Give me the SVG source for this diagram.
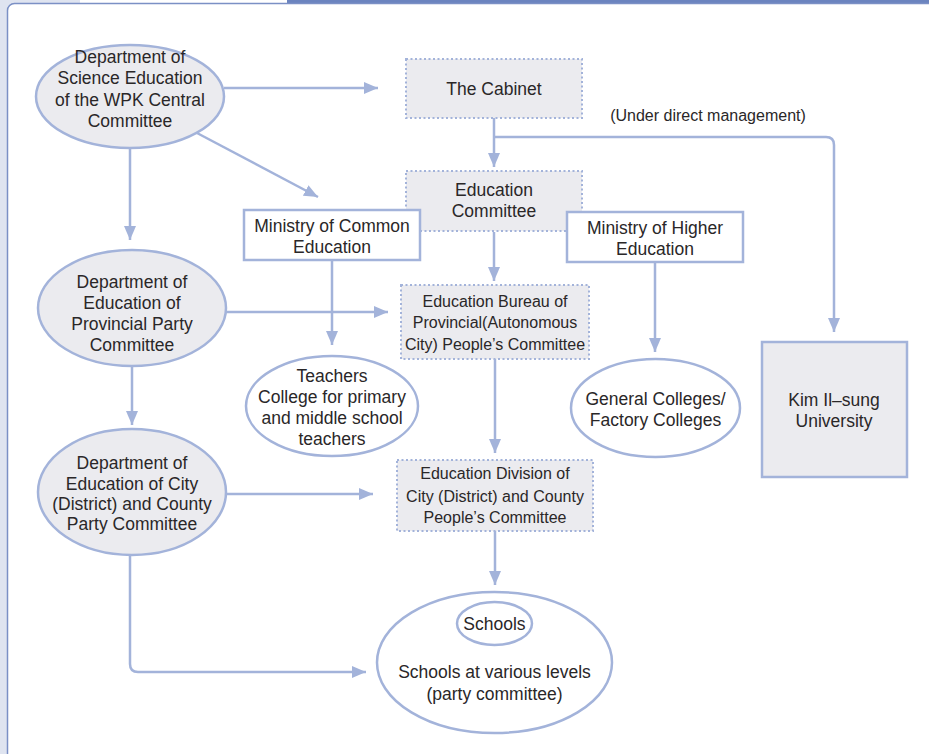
<svg xmlns="http://www.w3.org/2000/svg" width="929" height="754" viewBox="0 0 929 754">
<defs>
<style>
.t{font-family:"Liberation Sans",Arial,sans-serif;font-size:17.5px;fill:#2a2728;text-anchor:middle}
.s{font-size:16px}
.ell{fill:#ebebef;stroke:#a3b3da;stroke-width:2.5}
.ellw{fill:#ffffff;stroke:#a3b3da;stroke-width:2.5}
.dot{fill:#ebebef;stroke:#a3b3da;stroke-width:2;stroke-dasharray:2 2.5}
.box{fill:#ffffff;stroke:#a3b3da;stroke-width:2.5}
.boxg{fill:#ebebef;stroke:#a3b3da;stroke-width:2.5}
.c{fill:none;stroke:#a3b3da;stroke-width:2.5;marker-end:url(#ah)}
</style>
<marker id="ah" viewBox="0 0 14 12" refX="14" refY="6" markerWidth="14" markerHeight="12" markerUnits="userSpaceOnUse" orient="auto">
<path d="M0,0 L14,6 L0,12 z" fill="#a3b3da"/>
</marker>
</defs>
<rect x="0" y="0" width="929" height="754" fill="#dfe4f0"/>
<rect x="80" y="0" width="207" height="5" fill="#ffffff"/>
<rect x="287" y="0" width="642" height="4" fill="#6b84bf"/>
<rect x="7.5" y="3.5" width="940" height="770" rx="7" fill="#ffffff" stroke="#7b90c5" stroke-width="1.5"/>

<g id="connectors">
<path class="c" d="M224,88 H378"/>
<path class="c" d="M197,133 L318,197"/>
<path class="c" d="M130,148 V240"/>
<path class="c" d="M494,118 V167"/>
<path class="c" d="M494,137 H826 Q834,137 834,145 V332"/>
<path class="c" d="M655,262 V352"/>
<path class="c" d="M494,232 V281"/>
<path class="c" d="M226,312 H388"/>
<path class="c" d="M332,260 V345"/>
<path class="c" d="M132,366 V425"/>
<path class="c" d="M495,359 V453"/>
<path class="c" d="M226,494 H373"/>
<path class="c" d="M495,531 V585"/>
<path class="c" d="M130,555 V664 Q130,672 138,672 H366"/>
</g>

<g id="wpk">
<ellipse class="ell" cx="130" cy="96.5" rx="94" ry="51.5"/>
<text class="t" x="130" y="63">Department of</text>
<text class="t" x="130" y="84">Science Education</text>
<text class="t" x="130" y="105.5">of the WPK Central</text>
<text class="t" x="130" y="126.5">Committee</text>
</g>

<g id="cabinet">
<rect class="dot" x="406" y="59" width="176" height="59"/>
<text class="t" x="494" y="95">The Cabinet</text>
</g>

<text class="t s" x="708" y="121">(Under direct management)</text>

<g id="educom">
<rect class="dot" x="406" y="171" width="176" height="60"/>
<text class="t" x="494" y="195.5">Education</text>
<text class="t" x="494" y="216.5">Committee</text>
</g>

<g id="mincommon">
<rect class="box" x="244" y="210" width="176" height="50"/>
<text class="t" x="332" y="232">Ministry of Common</text>
<text class="t" x="332" y="253">Education</text>
</g>

<g id="minhigher">
<rect class="box" x="567" y="212" width="176" height="50"/>
<text class="t" x="655" y="234">Ministry of Higher</text>
<text class="t" x="655" y="255">Education</text>
</g>

<g id="prov">
<ellipse class="ell" cx="132" cy="308" rx="94" ry="58"/>
<text class="t" x="132" y="288">Department of</text>
<text class="t" x="132" y="309">Education of</text>
<text class="t" x="132" y="330">Provincial Party</text>
<text class="t" x="132" y="351">Committee</text>
</g>

<g id="bureau">
<rect class="dot" x="401" y="285" width="188" height="74"/>
<text class="t s" x="495" y="306.5">Education Bureau of</text>
<text class="t s" x="495" y="328">Provincial(Autonomous</text>
<text class="t s" x="495" y="350">City) People’s Committee</text>
</g>

<g id="teachers">
<ellipse class="ellw" cx="332" cy="406" rx="86" ry="50"/>
<text class="t" x="332" y="382">Teachers</text>
<text class="t" x="332" y="403">College for primary</text>
<text class="t" x="332" y="424">and middle school</text>
<text class="t" x="332" y="445">teachers</text>
</g>

<g id="colleges">
<ellipse class="ellw" cx="655.5" cy="408" rx="84.5" ry="49"/>
<text class="t" x="655.5" y="405">General Colleges/</text>
<text class="t" x="655.5" y="426">Factory Colleges</text>
</g>

<g id="kimilsung">
<rect class="boxg" x="762" y="342" width="145" height="135"/>
<text class="t" x="834" y="406">Kim Il–sung</text>
<text class="t" x="834" y="427">University</text>
</g>

<g id="city">
<ellipse class="ell" cx="132" cy="492" rx="94" ry="63"/>
<text class="t" x="132" y="469">Department of</text>
<text class="t" x="132" y="490">Education of City</text>
<text class="t" x="132" y="510">(District) and County</text>
<text class="t" x="132" y="530">Party Committee</text>
</g>

<g id="division">
<rect class="dot" x="397" y="460" width="196" height="71"/>
<text class="t s" x="495" y="479">Education Division of</text>
<text class="t s" x="495" y="501.5">City (District) and County</text>
<text class="t s" x="495" y="523">People’s Committee</text>
</g>

<g id="schools">
<ellipse class="ellw" cx="494.5" cy="662.5" rx="117.5" ry="70.5"/>
<ellipse class="ellw" cx="494.5" cy="623.5" rx="37.5" ry="21.5"/>
<text class="t" x="494.5" y="630">Schools</text>
<text class="t" x="494.5" y="678">Schools at various levels</text>
<text class="t" x="494.5" y="700">(party committee)</text>
</g>
</svg>
